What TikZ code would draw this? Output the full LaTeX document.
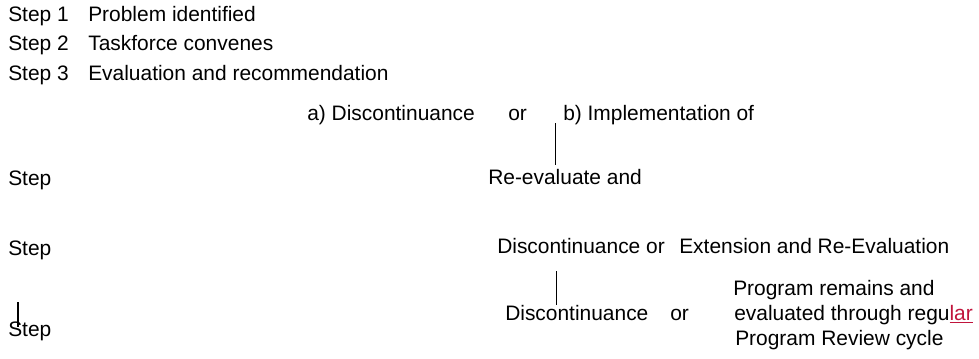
\documentclass[tikz,border=0pt]{standalone}
\usepackage{fontspec}
\setmainfont{Liberation Sans}
\usepackage{xcolor}
\definecolor{typo}{HTML}{C0143C}
\tikzset{
 steplabel/.style={anchor=base west,inner sep=0,font=\fontsize{15.7}{19}\selectfont},
 stepnote/.style={steplabel},
 joint/.style={line width=.75pt},
 caret/.style={line width=1.6pt}
}

\begin{document}
\begin{tikzpicture}[x=.75pt,y=-.75pt]
\path[use as bounding box] (0,0) rectangle (979,358);
\node[steplabel] (s1) at (8,21) {Step 1};
\node[stepnote] (n1) at (88,21) {Problem identified};
\node[steplabel] (s2) at (8,50) {Step 2};
\node[stepnote] (n2) at (88,50) {Taskforce convenes};
\node[steplabel] (s3) at (8,80) {Step 3};
\node[stepnote] (n3) at (88,80) {Evaluation and recommendation};
\node[stepnote] (disca) at (307,120) {a) Discontinuance};
\node[stepnote] (ora) at (508,120) {or};
\node[stepnote] (impl) at (563,120) {b) Implementation of};
\node[steplabel] (s4) at (8,185) {Step};
\node[stepnote] (reeval) at (488,184) {Re-evaluate and};
\node[steplabel] (s5) at (8,255) {Step};
\node[stepnote] (discb) at (497,253) {Discontinuance or};
\node[stepnote] (ext) at (679,253) {Extension and Re-Evaluation};
\node[stepnote] (prog1) at (733,295) {Program remains and};
\node[stepnote] (discc) at (505,320) {Discontinuance};
\node[stepnote] (orc) at (670,320) {or};
\node[stepnote] (prog2) at (734,320) {evaluated through regu\textcolor{typo}{\underline{lar}}};
\node[stepnote] (prog3) at (735,345) {Program Review cycle};
\node[steplabel] (s6) at (8,336) {Step};
\coordinate (j1) at (555,123);
\coordinate (j2) at (555,165);
\coordinate (j3) at (556,271);
\coordinate (j4) at (556,305);
\coordinate (c1) at (18,302);
\coordinate (c2) at (18,327);
\draw[joint] (j1) -- (j2);
\draw[joint] (j3) -- (j4);
\draw[caret] (c1) -- (c2);
\end{tikzpicture}
\end{document}
